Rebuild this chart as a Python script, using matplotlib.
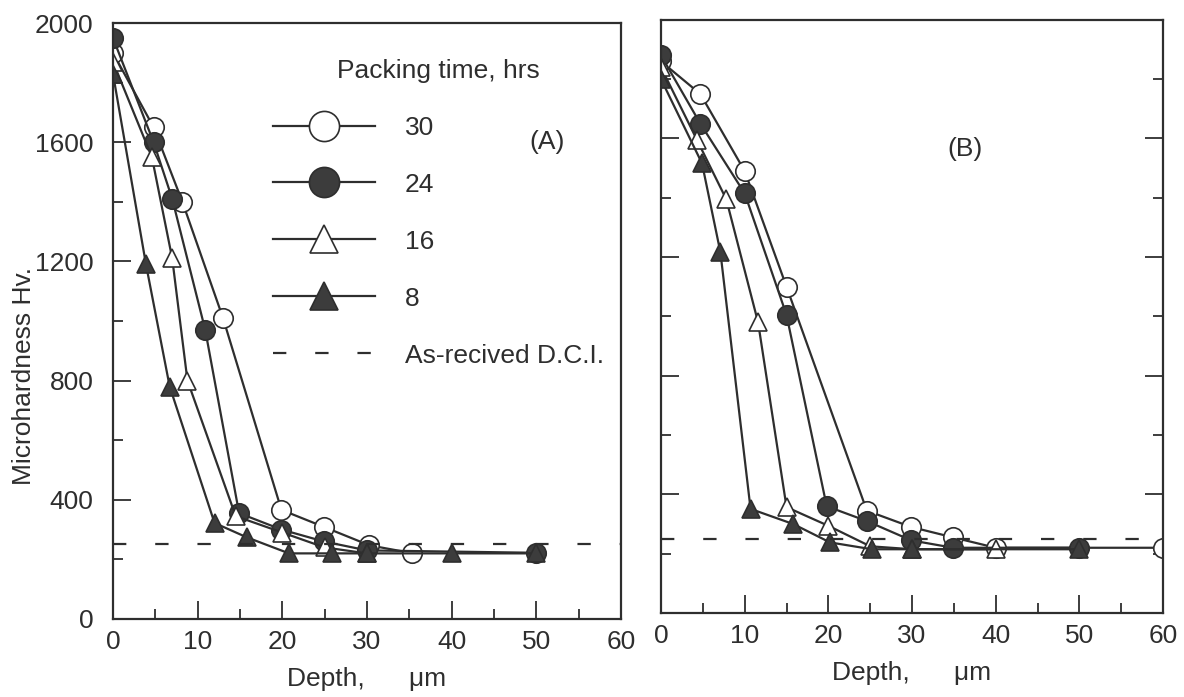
import matplotlib.pyplot as plt
from matplotlib.ticker import MultipleLocator

plt.rcParams['font.family'] = ['Liberation Sans', 'DejaVu Sans']

# ---- panel (A) ----
a30_x = [0, 4.8, 8.2, 13, 19.9, 24.9, 30.3, 35.3]
a30_y = [1900, 1650, 1400, 1010, 366, 309, 247, 221]
a24_x = [0, 4.8, 7, 10.9, 14.9, 19.9, 24.9, 30, 50]
a24_y = [1950, 1600, 1410, 970, 355, 300, 260, 230, 222]
a16_x = [0, 4.6, 7, 8.8, 14.5, 20, 25, 30]
a16_y = [1870, 1550, 1210, 800, 345, 290, 240, 220]
a8_x = [0, 3.9, 6.7, 12, 15.8, 20.8, 25.9, 30, 40, 50]
a8_y = [1830, 1190, 780, 322, 274, 220, 220, 220, 220, 220]

# ---- panel (B) ----
b30_x = [0, 4.7, 10, 15, 24.6, 29.9, 34.9, 40, 60]
b30_y = [1860, 1750, 1490, 1100, 345, 290, 255, 220, 220]
b24_x = [0, 4.7, 10, 15, 19.8, 24.6, 29.9, 34.9, 50]
b24_y = [1880, 1650, 1415, 1005, 360, 310, 245, 220, 220]
b16_x = [0, 4.3, 7.8, 11.6, 15, 20, 25, 30, 40]
b16_y = [1840, 1595, 1395, 980, 357, 294, 225, 215, 215]
b8_x = [0, 4.9, 7.1, 10.7, 15.8, 20.2, 25.2, 30, 50]
b8_y = [1800, 1516, 1216, 351, 300, 238, 215, 215, 215]

dci = 250  # as-received D.C.I.
labels = ['30', '24', '16', '8']

ink = '#2e2e2e'
fs = 19
styles = [
    dict(marker='o', mfc='white', ms=14),
    dict(marker='o', mfc='#3c3c3c', ms=14),
    dict(marker='^', mfc='white', ms=13),
    dict(marker='^', mfc='#3c3c3c', ms=13),
]

fig = plt.figure(figsize=(11.84, 6.97), dpi=100)
axA = fig.add_axes([0.0954, 0.112, 0.429, 0.855])
axB = fig.add_axes([0.5583, 0.1205, 0.424, 0.851])


def draw(ax, xs, ys):
    handles = []
    for x, y, st, lab in zip(xs, ys, styles, labels):
        h, = ax.plot(x, y, color=ink, lw=1.6, mec=ink, mew=1.2, label=lab, **st)
        handles.append(h)
    d, = ax.plot([0, 60], [dci, dci], color=ink, lw=1.6, dashes=(6, 13),
                 label='As-recived D.C.I.')
    handles.append(d)
    ax.set_xlim(0, 60)
    ax.set_ylim(0, 2000)
    ax.xaxis.set_major_locator(MultipleLocator(10))
    ax.xaxis.set_minor_locator(MultipleLocator(5))
    ax.yaxis.set_major_locator(MultipleLocator(400))
    ax.yaxis.set_minor_locator(MultipleLocator(200))
    for s in ax.spines.values():
        s.set_color(ink)
        s.set_linewidth(1.6)
    ax.set_xlabel('Depth,      \u03bcm', fontsize=fs, color=ink, labelpad=9)
    ax.tick_params(which='both', direction='in', top=False,
                   labelsize=fs, labelcolor=ink, color=ink, width=1.3)
    ax.tick_params(which='major', length=13)
    ax.tick_params(which='minor', length=7)
    ax.tick_params(axis='x', pad=8)
    return handles


hA = draw(axA, [a30_x, a24_x, a16_x, a8_x], [a30_y, a24_y, a16_y, a8_y])
hB = draw(axB, [b30_x, b24_x, b16_x, b8_x], [b30_y, b24_y, b16_y, b8_y])

axA.tick_params(axis='y', which='both', right=False, pad=14)
axA.set_ylabel('Microhardness Hv.', fontsize=fs, color=ink)
axA.yaxis.set_label_coords(-0.152, 0.408)

axB.tick_params(axis='y', which='both', right=True, labelleft=False)

axA.text(51.3, 1600, '(A)', fontsize=fs, color=ink, ha='center', va='center')
axB.text(36.3, 1565, '(B)', fontsize=fs, color=ink, ha='center', va='center')

leg = axA.legend(handles=hA, loc='upper left', bbox_to_anchor=(0.315, 0.94),
                 frameon=False, title='Packing time, hrs', fontsize=fs,
                 title_fontsize=fs, markerscale=1.55, handlelength=3.85,
                 handletextpad=1.15, labelspacing=1.25, borderpad=0,
                 borderaxespad=0)
for t in leg.get_texts():
    t.set_color(ink)
leg.get_title().set_color(ink)

fig.savefig('out.png', dpi=100)
